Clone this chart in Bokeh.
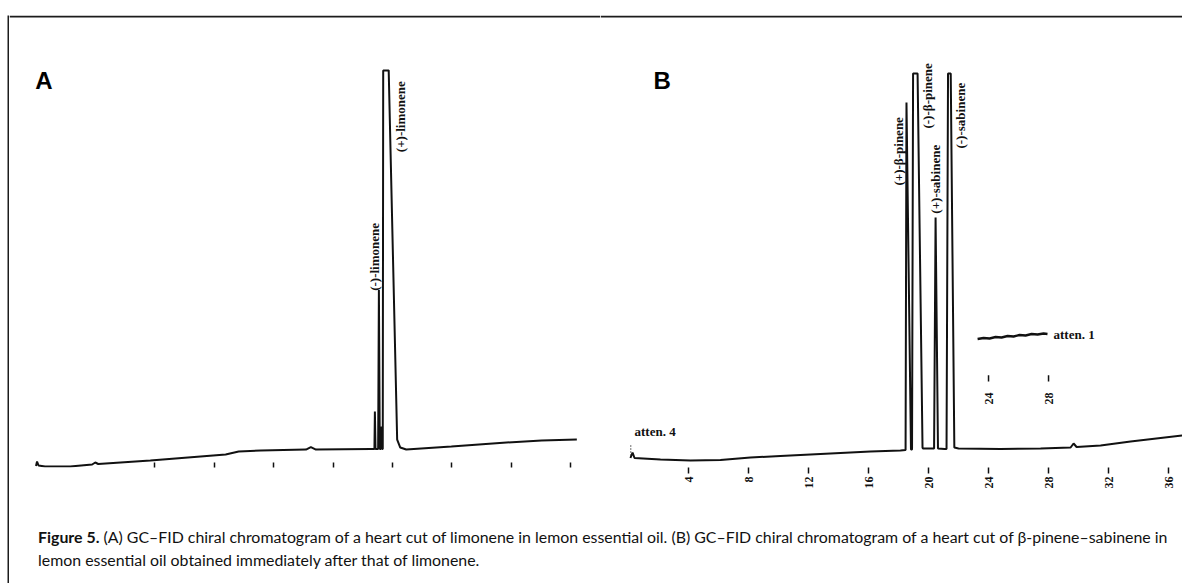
import numpy as np
from bokeh.plotting import figure
from bokeh.models import Range1d, LinearAxis, FixedTicker, Div, Spacer, Span
from bokeh.layouts import row, column
from bokeh.embed import file_html
from bokeh.resources import INLINE
from bokeh.core.properties import value

# ---------------- Panel A : limonene heart cut (time in min, response in % full scale)
a_time = [0.00, 0.07, 0.17, 0.61, 2.30, 3.78, 3.99, 4.19, 7.70, 11.08, 12.77, 13.65, 15.14,
          18.18, 18.51, 18.85, 22.57, 22.79, 22.82, 22.86, 23.04, 23.09, 23.15, 23.23, 23.28,
          23.32, 23.35, 23.38, 23.75, 24.32, 24.53, 24.93, 27.97, 31.69, 34.05, 36.42]
a_resp = [-0.13, 1.01, 0.00, -0.25, -0.25, 0.25, 0.76, 0.38, 1.26, 2.27, 2.78, 3.54, 3.79,
          4.04, 4.67, 4.04, 4.17, 4.17, 13.64, 4.17, 4.17, 44.44, 4.17, 4.17, 9.85,
          4.17, 4.17, 100.0, 100.0, 6.57, 4.55, 4.04, 4.80, 5.81, 6.31, 6.57]
a_ticks = [8, 12, 16, 20, 24, 28, 32, 36]
a_labels = ["(-)-limonene", "(+)-limonene"]
a_label_time = [22.77, 24.55]
a_label_resp = [44.2, 79.3]

# ---------------- Panel B : beta-pinene / sabinene heart cut
b_time = [0.13, 0.27, 0.40, 2.13, 4.13, 6.13, 8.13, 10.13, 12.13, 14.13, 16.13, 18.13,
          18.47, 18.53, 18.83, 18.90, 18.97, 19.27, 19.60, 19.63, 20.27, 20.37, 20.47, 20.63,
          21.07, 21.20, 21.30, 21.48, 21.72, 22.00, 24.80, 27.47, 29.47, 29.67, 29.87, 31.47,
          33.47, 35.47, 36.90]
b_resp = [0.13, 1.56, 0.13, -0.26, -0.52, -0.39, 0.26, 0.65, 1.04, 1.43, 1.82, 2.08,
          2.21, 92.47, 2.34, 2.34, 100.0, 100.0, 2.86, 2.60, 2.60, 2.60, 62.6, 2.60,
          2.47, 2.47, 100.0, 100.0, 2.86, 2.60, 2.47, 2.60, 2.86, 3.90, 2.99, 3.38,
          4.42, 5.32, 5.97]
b_ticks = [4, 8, 12, 16, 20, 24, 28, 32, 36]
b_labels = ["(+)-\u03b2-pinene", "(-)-\u03b2-pinene", "(+)-sabinene", "(-)-sabinene"]
b_label_time = [18.0, 19.93, 20.47, 22.13]
b_label_resp = [70.9, 85.7, 63.6, 80.5]

# attenuation 1 trace (raised section)
b_att_time = [23.27, 23.67, 24.07, 24.47, 24.87, 25.27, 25.67, 26.07, 26.47, 26.87, 27.27, 27.67, 27.93]
b_att_resp = [31.04, 31.30, 31.17, 31.56, 31.43, 31.82, 31.69, 32.08, 31.95, 32.34, 32.21, 32.47, 32.34]
b_att_ticks = [24, 28]

INK = "#111111"
FRAME = "#1c1c1c"
SERIF = value("Liberation Serif")


def base_fig(w, h, xr, yr, bottom):
    p = figure(width=w, height=h, x_range=Range1d(*xr), y_range=Range1d(*yr),
               x_axis_type=None, y_axis_type=None, output_backend="svg",
               toolbar_location=None, min_border_left=0, min_border_right=0,
               min_border_top=0, min_border_bottom=bottom, margin=0)
    p.title.visible = False
    p.outline_line_color = None
    p.background_fill_color = "white"
    p.border_fill_color = "white"
    return p


# ---- Panel A (frame: page y 15..468)
pa = base_fig(591, 480, (-1.785, 38.013), (-0.505, 113.89), 27)
pa.add_layout(Span(location=113.64, dimension="width", line_color=FRAME, line_width=2))
pa.line(a_time, a_resp, line_color=INK, line_width=2)
pa.text(x=a_label_time, y=a_label_resp, text=a_labels, angle=np.pi / 2,
        text_font=SERIF, text_font_style="bold", text_font_size="13px",
        text_align="left", text_baseline="middle", text_color=INK)
pa.text(x=[-0.05], y=[97.5], text=["A"], text_font=value("Liberation Sans"),
        text_font_style="bold", text_font_size="24px", text_align="left",
        text_baseline="alphabetic", text_color="#000")
axa = LinearAxis(ticker=FixedTicker(ticks=a_ticks))
axa.axis_line_color = None
axa.major_tick_in = 5
axa.major_tick_out = 0
axa.major_tick_line_width = 1.5
axa.major_tick_line_color = INK
axa.minor_tick_line_color = None
axa.major_label_overrides = {t: "" for t in a_ticks}
pa.add_layout(axa, "below")

# ---- Panel B (frame: page y 15..467)
pb = base_fig(582, 480, (-1.867, 36.93), (-2.338, 115.06), 28)
pb.add_layout(Span(location=114.81, dimension="width", line_color=FRAME, line_width=2))
pb.line(b_time, b_resp, line_color=INK, line_width=2)
pb.line(b_att_time, b_att_resp, line_color=INK, line_width=2.4)
pb.segment(x0=[0.15], y0=[0.8], x1=[0.15], y1=[3.9], line_color=INK,
           line_width=1.2, line_dash="1 2")
pb.segment(x0=b_att_ticks, y0=[20.0] * 2, x1=b_att_ticks, y1=[21.6] * 2,
           line_color=INK, line_width=1.5)
pb.text(x=b_att_ticks, y=[14.0] * 2, text=[str(t) for t in b_att_ticks], angle=np.pi / 2,
        text_font=SERIF, text_font_style="bold", text_font_size="12px",
        text_align="left", text_baseline="middle", text_color=INK)
pb.text(x=b_label_time, y=b_label_resp, text=b_labels, angle=np.pi / 2,
        text_font=SERIF, text_font_style="bold", text_font_size="13px",
        text_align="left", text_baseline="middle", text_color=INK)
pb.text(x=[0.4, 28.33], y=[7.0, 32.2], text=["atten. 4", "atten. 1"],
        text_font=SERIF, text_font_style="bold", text_font_size="13px",
        text_align="left", text_baseline="alphabetic", text_color=INK)
pb.text(x=[1.67], y=[98.2], text=["B"], text_font=value("Liberation Sans"),
        text_font_style="bold", text_font_size="24px", text_align="left",
        text_baseline="alphabetic", text_color="#000")
axb = LinearAxis(ticker=FixedTicker(ticks=b_ticks))
axb.axis_line_color = None
axb.major_tick_in = 0
axb.major_tick_out = 6
axb.major_tick_line_width = 1.5
axb.major_tick_line_color = INK
axb.minor_tick_line_color = None
axb.major_label_orientation = np.pi / 2
axb.major_label_standoff = 3
axb.major_label_text_font = "Liberation Serif"
axb.major_label_text_font_style = "bold"
axb.major_label_text_font_size = "12px"
axb.major_label_text_color = INK
pb.add_layout(axb, "below")

caption = Div(
    text=('<div style="font-family: Lato, sans-serif; font-size: 15.9px; line-height: 23px; '
          'color:#111; white-space:nowrap; padding: 30px 0 0 29px;">'
          '<b>Figure 5.</b> (A) GC\u2013FID chiral chromatogram of a heart cut of limonene in lemon '
          'essential oil. (B) GC\u2013FID chiral chromatogram of a heart cut of \u03b2-pinene\u2013sabinene in'
          '<br>lemon essential oil obtained immediately after that of limonene.</div>'),
    width=1173, height=88, margin=0)

# left frame line of the figure box (solid filled strip)
left_line = figure(width=2, height=568, x_axis_type=None, y_axis_type=None,
                   toolbar_location=None, output_backend="svg", min_border=0, margin=0)
left_line.title.visible = False
left_line.outline_line_color = None
left_line.background_fill_color = FRAME
left_line.border_fill_color = FRAME

body = column(row(pa, pb, margin=0), caption, margin=0)
layout = column(
    Spacer(width=1182, height=15, margin=0),
    row(Spacer(width=7, height=568, margin=0), left_line, body, margin=0),
    margin=0)

open("out.html", "w").write(file_html(layout, INLINE))
